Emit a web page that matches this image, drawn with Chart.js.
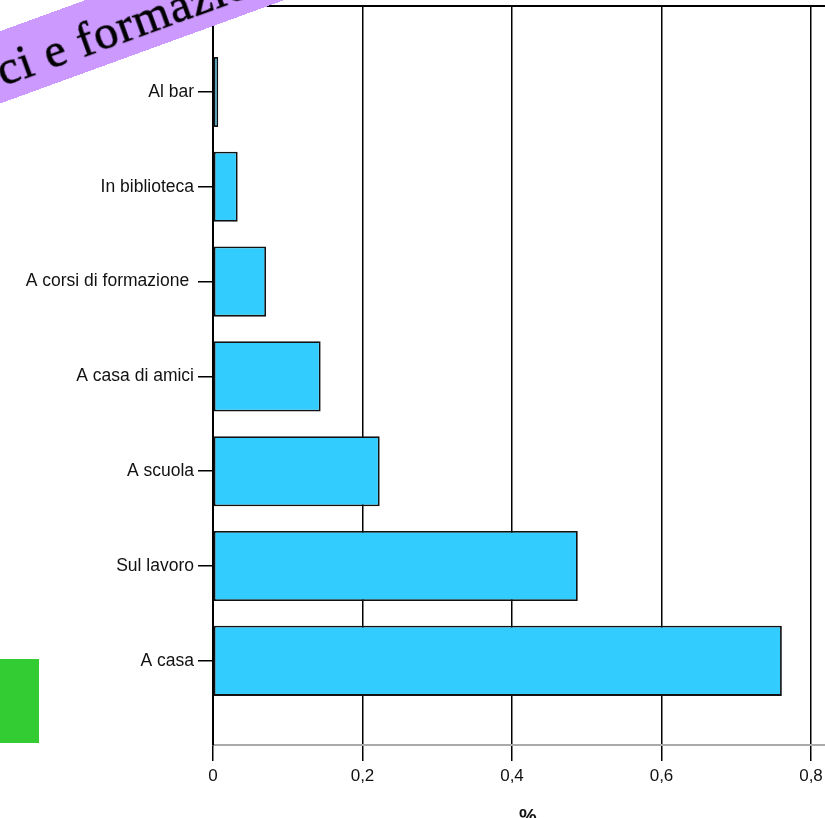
<!DOCTYPE html>
<html>
<head>
<meta charset="utf-8">
<script src="https://cdn.jsdelivr.net/npm/chart.js@4/dist/chart.umd.min.js"></script>
<style>
  body { margin: 0; background: #fff; overflow: hidden; width: 825px; height: 818px; position: relative; }
  #chart { position: absolute; left: 0; top: 0; }
  #ribbon {
    position: absolute; left: -150px; top: 88px; width: 560px; height: 68px;
    background: #cc99ff; transform-origin: 0 34px; transform: rotate(-20deg);
    font-family: "Liberation Serif", serif; font-size: 48px; line-height: 74px; color: #000;
    padding-left: 156px; box-sizing: border-box; white-space: nowrap; overflow: hidden;
    -webkit-text-stroke: 0.6px #000; letter-spacing: 1px;
  }
  #greenBox { position: absolute; left: 0; top: 659px; width: 39px; height: 84px; background: #33cc33; }
</style>
</head>
<body>
<canvas id="chart" width="843" height="830"></canvas>
<div id="ribbon">ci e formazione</div>
<div id="greenBox"></div>
<script>
// luoghi (dall'alto verso il basso)
const places = ['Al bar', 'In biblioteca', 'A corsi di formazione ', 'A casa di amici', 'A scuola', 'Sul lavoro', 'A casa'];
const shares = [0.007, 0.033, 0.071, 0.144, 0.223, 0.488, 0.761];
const xTicks = [0, 0.2, 0.4, 0.6, 0.8];

const fmt = v => v === 0 ? '0' : v.toFixed(1).replace('.', ',');

document.addEventListener('DOMContentLoaded', function() {
    const ctx = document.getElementById('chart').getContext('2d');
    new Chart(ctx, {
        type: 'bar',
        data: {
            datasets: [{
                data: shares.map((v, i) => ({ x: v, y: i })),
                backgroundColor: '#33ccff',
                borderColor: '#111',
                borderWidth: 1.8,
                borderSkipped: false,
                barPercentage: 0.74,
                categoryPercentage: 1
            }]
        },
        options: {
            indexAxis: 'y',
            responsive: false,
            animation: false,
            layout: { padding: { top: 6, right: 0, bottom: 0, left: 0 } },
            plugins: { legend: { display: false }, tooltip: { enabled: false } },
            scales: {
                x: {
                    type: 'linear',
                    position: 'bottom',
                    min: 0,
                    max: 0.8428,
                    afterBuildTicks: s => { s.ticks = xTicks.map(v => ({ value: v })); },
                    afterFit: s => { s.height = 85; s.paddingLeft = 0; s.paddingRight = 0; },
                    grid: { color: '#000', lineWidth: 1.5, tickLength: 16 },
                    border: { color: '#aaa', width: 2 },
                    ticks: {
                        color: '#111',
                        padding: 5,
                        font: { family: 'Liberation Sans, Arial', size: 17 },
                        callback: v => fmt(v)
                    },
                    title: {
                        display: true,
                        text: '%',
                        color: '#111',
                        font: { family: 'Liberation Sans, Arial', size: 20, weight: 'bold' },
                        padding: { top: 0, bottom: 1 }
                    }
                },
                x2: {
                    type: 'linear',
                    position: 'top',
                    min: 0,
                    max: 1,
                    afterFit: s => { s.height = 0; s.paddingLeft = 0; s.paddingRight = 0; },
                    grid: { display: false },
                    border: { color: '#000', width: 2 },
                    ticks: { display: false }
                },
                y: {
                    type: 'linear',
                    reverse: true,
                    offset: false,
                    min: -0.907,
                    max: 6.888,
                    afterFit: s => { s.width = 213; s.paddingTop = 0; s.paddingBottom = 0; },
                    grid: { offset: false, drawOnChartArea: false, color: '#000', lineWidth: 1.5, tickLength: 15 },
                    border: { color: '#000', width: 2 },
                    ticks: {
                        stepSize: 1,
                        includeBounds: false,
                        color: '#111',
                        padding: 4,
                        font: { family: 'Liberation Sans, Arial', size: 17.5 },
                        callback: v => Number.isInteger(v) ? places[v] : ''
                    }
                }
            }
        }
    });
});
</script>
</body>
</html>
